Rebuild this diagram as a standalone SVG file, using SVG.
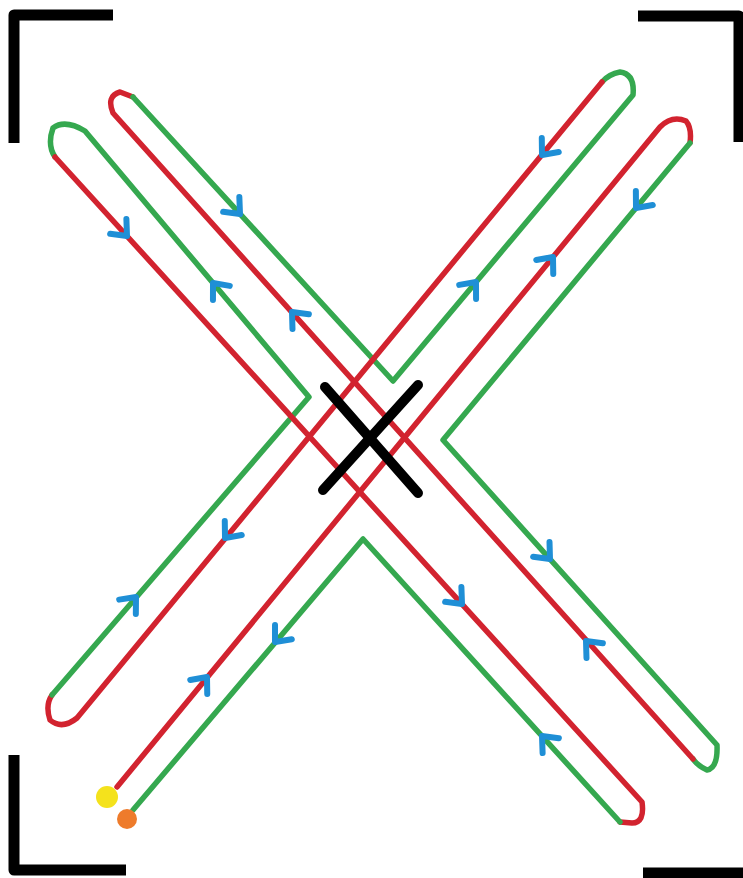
<svg xmlns="http://www.w3.org/2000/svg" width="743" height="878" viewBox="0 0 743 878">
  <style>
    .bk{fill:none;stroke:#000;stroke-width:11;stroke-linejoin:round;stroke-linecap:butt}
    .r{fill:none;stroke:#d2232f;stroke-width:5.5;stroke-linejoin:round;stroke-linecap:round}
    .g{fill:none;stroke:#35a84f;stroke-width:5.5;stroke-linejoin:round;stroke-linecap:round}
    .ar{fill:none;stroke:#1f8fd6;stroke-width:6;stroke-linejoin:round;stroke-linecap:round}
    .x{fill:none;stroke:#000;stroke-width:10;stroke-linecap:round}
  </style>
  <defs>
    <path id="chev" d="M-13,-11 L0,0 L-13,11"/>
  </defs>
  <rect width="743" height="878" fill="#fff"/>
  <g id="brackets">
    <path class="bk" d="M113,15 L14,15 L14,143"/>
    <path class="bk" d="M638,16 L739,16 L739,142"/>
    <path class="bk" d="M14,755 L14,870 L126,870"/>
    <path class="bk" d="M643,873 L743,873"/>
  </g>
  <g id="path">
    <path class="r" d="M117,787 L660,127 Q672,115 686,121 Q692,128 690,143"/>
    <path class="g" d="M690,143 L443,440 L717,745 Q718,768 707,770 Q698,766 693,759"/>
    <path class="r" d="M693,759 L113,113 Q106,96 120,92 L133,97"/>
    <path class="g" d="M133,97 L393,381 L633,95 Q635,74 620,72 Q609,74 602,82"/>
    <path class="r" d="M602,82 L77,718 Q62,730 50,720 Q45,705 52,695"/>
    <path class="g" d="M52,695 L309,397 L85,131 Q65,119 53,128 Q47,145 55,157"/>
    <path class="r" d="M55,157 L642,802 Q645,823 632,823 L620,822"/>
    <path class="g" d="M620,822 L363,539 L133,810"/>
  </g>
  <g id="arrows" class="ar">
    <use href="#chev" transform="translate(207,677) rotate(-50.6)"/>
    <use href="#chev" transform="translate(553,257) rotate(-50.6)"/>
    <use href="#chev" transform="translate(636,208) rotate(129.8)"/>
    <use href="#chev" transform="translate(550,559) rotate(48.1)"/>
    <use href="#chev" transform="translate(586,641) rotate(-131.9)"/>
    <use href="#chev" transform="translate(292,312) rotate(-131.9)"/>
    <use href="#chev" transform="translate(240,214) rotate(47.5)"/>
    <use href="#chev" transform="translate(476,282) rotate(-50)"/>
    <use href="#chev" transform="translate(542,155) rotate(129.5)"/>
    <use href="#chev" transform="translate(225,538) rotate(129.5)"/>
    <use href="#chev" transform="translate(136,597) rotate(-49.2)"/>
    <use href="#chev" transform="translate(213,283) rotate(-130.1)"/>
    <use href="#chev" transform="translate(127,236) rotate(47.7)"/>
    <use href="#chev" transform="translate(462,604) rotate(47.7)"/>
    <use href="#chev" transform="translate(542,736) rotate(-132.3)"/>
    <use href="#chev" transform="translate(275,642) rotate(130.3)"/>
  </g>
  <g id="cross">
    <path class="x" d="M325,387 L418,493"/>
    <path class="x" d="M418,385 L323,490"/>
  </g>
  <g id="start-dots">
    <circle cx="107" cy="797" r="11" fill="#f4e21c"/>
    <circle cx="127" cy="819" r="10" fill="#ee7b2b"/>
  </g>
</svg>
